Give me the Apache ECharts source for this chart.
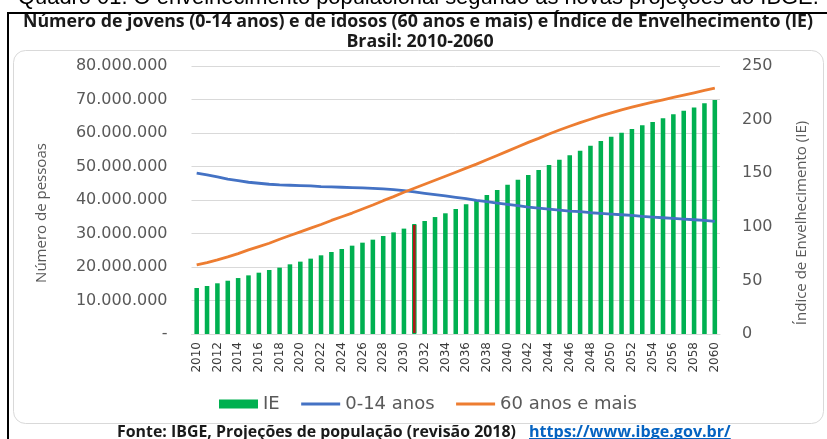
<!DOCTYPE html>
<html>
<head>
<meta charset="utf-8">
<script src="https://cdn.jsdelivr.net/npm/echarts@6/dist/echarts.min.js"></script>
<style>
html,body{margin:0;padding:0;background:#fff;}
#chart{width:827px;height:439px;}
</style>
</head>
<body>
<div id="chart"></div>
<script>
// ---- data ----
var years = ['2010','2011','2012','2013','2014','2015','2016','2017','2018','2019',
             '2020','2021','2022','2023','2024','2025','2026','2027','2028','2029',
             '2030','2031','2032','2033','2034','2035','2036','2037','2038','2039',
             '2040','2041','2042','2043','2044','2045','2046','2047','2048','2049',
             '2050','2051','2052','2053','2054','2055','2056','2057','2058','2059','2060'];

// Índice de Envelhecimento (right axis)
var ieValues = [42.9,44.8,47.3,49.7,52.2,54.7,57.2,59.7,61.9,65.0,
                67.5,70.3,73.4,76.5,79.3,82.4,85.2,88.0,91.4,94.8,
                98.3,102.6,105.4,109.1,112.6,116.6,121.0,125.0,129.7,134.3,
                139.3,143.9,148.3,153.0,157.6,162.6,166.7,171.0,175.7,180.0,
                184.1,187.8,191.2,194.7,197.8,201.2,204.9,208.3,211.4,215.2,218.3];

// 0-14 anos (left axis, persons)
var jovens = [48.0e6,47.5e6,46.9e6,46.2e6,45.8e6,45.3e6,45.0e6,44.7e6,44.5e6,44.4e6,
              44.3e6,44.2e6,44.0e6,43.9e6,43.8e6,43.7e6,43.6e6,43.5e6,43.3e6,43.1e6,
              42.8e6,42.4e6,42.0e6,41.6e6,41.2e6,40.8e6,40.4e6,39.9e6,39.5e6,39.1e6,
              38.7e6,38.3e6,37.9e6,37.6e6,37.3e6,37.0e6,36.7e6,36.5e6,36.2e6,36.0e6,
              35.8e6,35.6e6,35.4e6,35.1e6,34.9e6,34.7e6,34.5e6,34.3e6,34.1e6,33.9e6,33.6e6];

// 60 anos e mais (left axis, persons)
var idosos = [20.6e6,21.3e6,22.1e6,23.0e6,24.0e6,25.1e6,26.1e6,27.1e6,28.3e6,29.4e6,
              30.5e6,31.6e6,32.7e6,33.9e6,35.0e6,36.1e6,37.3e6,38.5e6,39.8e6,41.0e6,
              42.3e6,43.5e6,44.7e6,45.9e6,47.1e6,48.3e6,49.5e6,50.7e6,52.0e6,53.3e6,
              54.6e6,55.9e6,57.2e6,58.4e6,59.7e6,60.9e6,62.0e6,63.1e6,64.1e6,65.1e6,
              66.0e6,66.9e6,67.7e6,68.5e6,69.2e6,69.9e6,70.6e6,71.3e6,72.0e6,72.7e6,73.4e6];

var highlightYear = '2031';
var seriesNames = ['IE', '0-14 anos', '60 anos e mais'];

var leftAxisMin = 0, leftAxisMax = 80000000, leftAxisStep = 10000000;
var rightAxisMin = 0, rightAxisMax = 250, rightAxisStep = 50;

var titleLine1 = 'Número de jovens (0-14 anos) e de idosos (60 anos e mais) e Índice de Envelhecimento (IE)';
var titleLine2 = 'Brasil: 2010-2060';
var topCaption = 'Quadro 01. O envelhecimento populacional segundo as novas projeções do IBGE.';
var leftAxisName = 'Número de pessoas';
var rightAxisName = 'Índice de Envelhecimento (IE)';
var sourceText = 'Fonte: IBGE, Projeções de população (revisão 2018)';
var sourceLink = 'https://www.ibge.gov.br/';

// ---- helpers ----
function fmtThousands(v) {
  if (v === 0) return '-';
  return String(Math.round(v)).replace(/\B(?=(\d{3})+(?!\d))/g, '.');
}
var measureCtx = document.createElement('canvas').getContext('2d');
function measure(text, font) {
  measureCtx.font = font;
  return measureCtx.measureText(text).width;
}
// font size that makes text span a given width
function fitSize(text, weight, family, targetW) {
  var w = measure(text, weight + ' 100px ' + family);
  return Math.round(100 * targetW / w * 10) / 10;
}

var ieData = ieValues.map(function (v, i) {
  if (years[i] === highlightYear) {
    return { value: v, itemStyle: { color: '#B01515', borderColor: '#00B050', borderWidth: 1 } };
  }
  return v;
});

var titleSize = fitSize(titleLine1, 'bold', '"Open Sans"', 793);
var capSize = fitSize(topCaption, 'normal', '"Liberation Sans"', 800);
var srcSize = fitSize(sourceText, 'bold', '"Open Sans"', 398);
var linkSize = fitSize(sourceLink, 'bold', '"Open Sans"', 202);
var linkFont = 'bold ' + linkSize + 'px "Open Sans"';
var linkX = 529;
var linkW = measure(sourceLink, linkFont);

var chart = echarts.init(document.getElementById('chart'), null, { renderer: 'canvas' });
var txtGray = '#595959';
var hiddenSymbol = { opacity: 0, color: 'rgba(0,0,0,0)', borderWidth: 0 };

chart.setOption({
  animation: false,
  backgroundColor: '#ffffff',
  textStyle: { fontFamily: '"DejaVu Sans"' },
  grid: { left: 191.5, right: 107, top: 66, bottom: 105, containLabel: false },
  legend: {
    data: [
      { name: seriesNames[0], icon: 'rect' },
      { name: seriesNames[1], itemStyle: hiddenSymbol, lineStyle: { width: 3 } },
      { name: seriesNames[2], itemStyle: hiddenSymbol, lineStyle: { width: 3 } }
    ],
    left: 214, top: 390,
    itemWidth: 39, itemHeight: 9, itemGap: 20,
    textStyle: { color: txtGray, fontSize: 18, fontFamily: '"DejaVu Sans"' }
  },
  xAxis: {
    type: 'category',
    data: years,
    axisLine: { show: true, lineStyle: { color: '#d9d9d9', width: 1 } },
    axisTick: { show: false },
    axisLabel: { interval: 1, rotate: 90, color: '#3a3a3a', fontSize: 12, margin: 8,
                 fontFamily: '"DejaVu Sans"' },
    splitLine: { show: false }
  },
  yAxis: [
    {
      type: 'value', position: 'left',
      min: leftAxisMin, max: leftAxisMax, interval: leftAxisStep,
      axisLine: { show: false }, axisTick: { show: false },
      axisLabel: { formatter: fmtThousands, color: txtGray, fontSize: 16, margin: 24 },
      splitLine: { show: true, lineStyle: { color: '#d9d9d9', width: 1 } }
    },
    {
      type: 'value', position: 'right',
      min: rightAxisMin, max: rightAxisMax, interval: rightAxisStep,
      axisLine: { show: false }, axisTick: { show: false },
      axisLabel: { color: txtGray, fontSize: 16, margin: 22 },
      splitLine: { show: false }
    }
  ],
  series: [
    {
      name: seriesNames[0], type: 'bar', yAxisIndex: 1, data: ieData,
      barWidth: '44%', itemStyle: { color: '#00B050' }, z: 1
    },
    {
      name: seriesNames[1], type: 'line', yAxisIndex: 0, data: jovens,
      symbol: 'none', lineStyle: { color: '#4472C4', width: 2.8 },
      itemStyle: { color: '#4472C4' }, z: 3
    },
    {
      name: seriesNames[2], type: 'line', yAxisIndex: 0, data: idosos,
      symbol: 'none', lineStyle: { color: '#ED7D31', width: 2.8 },
      itemStyle: { color: '#ED7D31' }, z: 4
    }
  ],
  graphic: [
    { type: 'text', x: 18, y: -2, z: 10,
      style: { text: topCaption, fill: '#000', font: capSize + 'px "Liberation Sans"',
               align: 'left', verticalAlign: 'middle' } },
    { type: 'line', z: 12, shape: { x1: 7, y1: 13, x2: 827, y2: 13 },
      style: { stroke: '#000', lineWidth: 2 } },
    { type: 'line', z: 12, shape: { x1: 8, y1: 12, x2: 8, y2: 439 },
      style: { stroke: '#000', lineWidth: 2 } },
    { type: 'rect', z: -1, shape: { x: 13.5, y: 50.5, width: 810, height: 373, r: 12 },
      style: { fill: 'none', stroke: '#d9d9d9', lineWidth: 1 } },
    { type: 'text', x: 418, y: 22, z: 10,
      style: { text: titleLine1, fill: '#1a1a1a', font: 'bold ' + titleSize + 'px "Open Sans"',
               align: 'center', verticalAlign: 'middle' } },
    { type: 'text', x: 420, y: 42, z: 10,
      style: { text: titleLine2, fill: '#1a1a1a', font: 'bold ' + titleSize + 'px "Open Sans"',
               align: 'center', verticalAlign: 'middle' } },
    { type: 'text', x: 42, y: 213, rotation: Math.PI / 2, z: 10,
      style: { text: leftAxisName, fill: txtGray, font: '15px "Open Sans"',
               align: 'center', verticalAlign: 'middle' } },
    { type: 'text', x: 802, y: 223, rotation: Math.PI / 2, z: 10,
      style: { text: rightAxisName, fill: txtGray, font: '15px "Open Sans"',
               align: 'center', verticalAlign: 'middle' } },
    { type: 'text', x: 117, y: 432, z: 10,
      style: { text: sourceText, fill: '#1a1a1a', font: 'bold ' + srcSize + 'px "Open Sans"',
               align: 'left', verticalAlign: 'middle' } },
    { type: 'text', x: linkX, y: 432, z: 10,
      style: { text: sourceLink, fill: '#0563C1', font: linkFont,
               align: 'left', verticalAlign: 'middle' } },
    { type: 'line', z: 10, shape: { x1: linkX, y1: 438.5, x2: linkX + linkW, y2: 438.5 },
      style: { stroke: '#0563C1', lineWidth: 1 } }
  ]
});
</script>
</body>
</html>
